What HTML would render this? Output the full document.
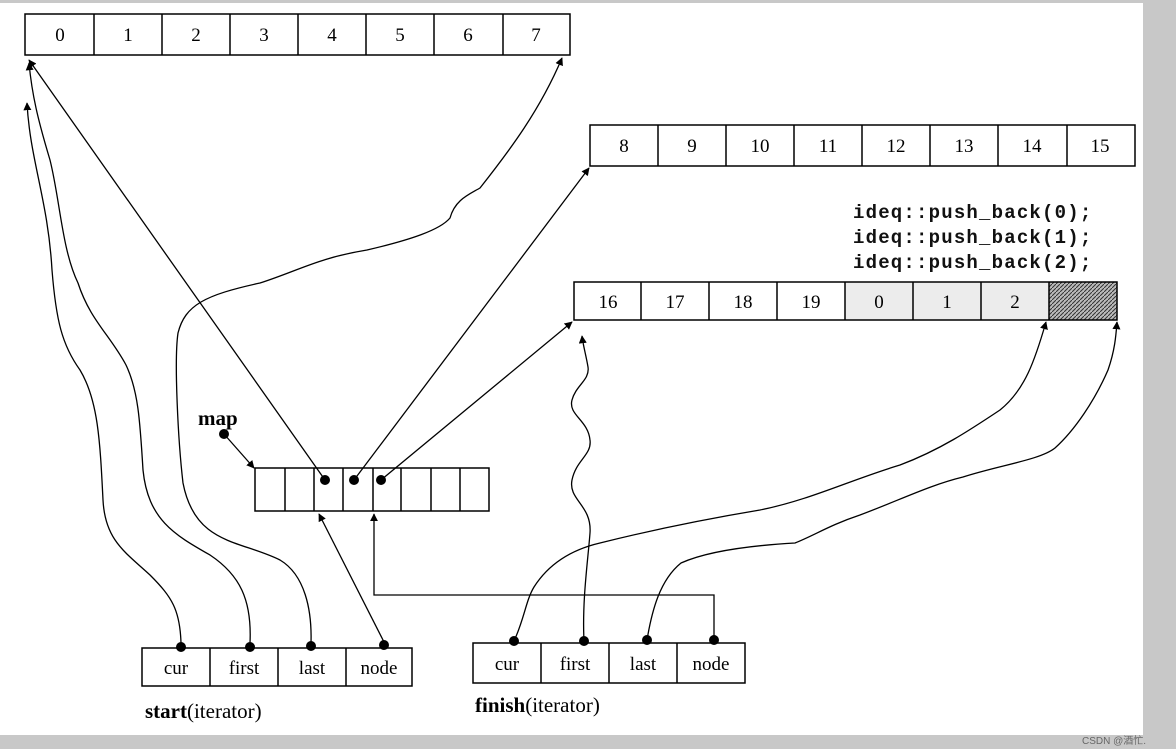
<!DOCTYPE html>
<html><head><meta charset="utf-8"><style>
html,body{margin:0;padding:0;background:#fff;}
svg{display:block;}
.n{font-family:"Liberation Serif",serif;font-size:19px;text-anchor:middle;fill:#000;}
.m{font-family:"Liberation Mono",monospace;font-size:19px;font-weight:bold;letter-spacing:1.2px;fill:#111;}
</style></head><body>
<svg width="1176" height="749" viewBox="0 0 1176 749" xmlns="http://www.w3.org/2000/svg">
<defs>
<marker id="a" viewBox="0 0 10 10" refX="9" refY="5" markerWidth="8" markerHeight="8" orient="auto-start-reverse" markerUnits="userSpaceOnUse">
<path d="M0,0 L10,5 L0,10 z" fill="#000"/></marker>
<pattern id="h" width="4" height="4" patternUnits="userSpaceOnUse">
<rect width="4" height="4" fill="#bbb"/><path d="M0,4 L4,0" stroke="#333" stroke-width="1"/></pattern>
</defs>
<rect x="0" y="0" width="1176" height="3" fill="#c8c8c8"/>
<rect x="1143" y="0" width="33" height="749" fill="#c8c8c8"/>
<rect x="0" y="735" width="1176" height="14" fill="#c8c8c8"/>

<g fill="none" stroke="#000" stroke-width="1.5">
<!-- array 0-7 -->
<rect x="25" y="14" width="545" height="41"/>
<path d="M94,14V55M162,14V55M230,14V55M298,14V55M366,14V55M434,14V55M503,14V55"/>
<!-- array 8-15 -->
<rect x="590" y="125" width="545" height="41"/>
<path d="M658,125V166M726,125V166M794,125V166M862,125V166M930,125V166M998,125V166M1067,125V166"/>
</g>
<!-- array 16.. -->
<rect x="845" y="282" width="204" height="38" fill="#ececec"/>
<rect x="1049" y="282" width="68" height="38" fill="url(#h)"/>
<g fill="none" stroke="#000" stroke-width="1.5">
<rect x="574" y="282" width="543" height="38"/>
<path d="M641,282V320M709,282V320M777,282V320M845,282V320M913,282V320M981,282V320M1049,282V320"/>
<!-- map -->
<rect x="255" y="468" width="234" height="43"/>
<path d="M285,468V511M314,468V511M343,468V511M373,468V511M401,468V511M431,468V511M460,468V511"/>
<!-- start -->
<rect x="142" y="648" width="270" height="38"/>
<path d="M210,648V686M278,648V686M346,648V686"/>
<!-- finish -->
<rect x="473" y="643" width="272" height="40"/>
<path d="M541,643V683M609,643V683M677,643V683"/>
</g>

<g class="n">
<text x="60" y="41">0</text><text x="128" y="41">1</text><text x="196" y="41">2</text><text x="264" y="41">3</text><text x="332" y="41">4</text><text x="400" y="41">5</text><text x="468" y="41">6</text><text x="536" y="41">7</text>
<text x="624" y="152">8</text><text x="692" y="152">9</text><text x="760" y="152">10</text><text x="828" y="152">11</text><text x="896" y="152">12</text><text x="964" y="152">13</text><text x="1032" y="152">14</text><text x="1100" y="152">15</text>
<text x="608" y="308">16</text><text x="675" y="308">17</text><text x="743" y="308">18</text><text x="811" y="308">19</text><text x="879" y="308">0</text><text x="947" y="308">1</text><text x="1015" y="308">2</text>
<text x="176" y="674">cur</text><text x="244" y="674">first</text><text x="312" y="674">last</text><text x="379" y="674">node</text>
<text x="507" y="670">cur</text><text x="575" y="670">first</text><text x="643" y="670">last</text><text x="711" y="670">node</text>
</g>
<text class="m" x="853" y="218">ideq::push_back(0);</text>
<text class="m" x="853" y="243">ideq::push_back(1);</text>
<text class="m" x="853" y="268">ideq::push_back(2);</text>
<text x="198" y="425" style="font-family:'Liberation Serif',serif;font-size:21px;font-weight:bold;">map</text>
<text x="145" y="718" style="font-family:'Liberation Serif',serif;font-size:21px;"><tspan font-weight="bold">start</tspan>(iterator)</text>
<text x="475" y="712" style="font-family:'Liberation Serif',serif;font-size:21px;"><tspan font-weight="bold">finish</tspan>(iterator)</text>
<text x="1082" y="744" style="font-family:'Liberation Sans','Noto Sans CJK SC',sans-serif;font-size:10px;fill:#666;">CSDN @酒忙.</text>

<g fill="#000">
<circle cx="181" cy="647" r="5"/><circle cx="250" cy="647" r="5"/><circle cx="311" cy="646" r="5"/><circle cx="384" cy="645" r="5"/>
<circle cx="514" cy="641" r="5"/><circle cx="584" cy="641" r="5"/><circle cx="647" cy="640" r="5"/><circle cx="714" cy="640" r="5"/>
<circle cx="325" cy="480" r="5"/><circle cx="354" cy="480" r="5"/><circle cx="381" cy="480" r="5"/>
<circle cx="224" cy="434" r="5"/>
</g>

<g fill="none" stroke="#000" stroke-width="1.3">
<path d="M181,643 C180,610 172,597 150,575 C125,552 105,540 103,500 C100,440 98,400 80,370 C62,345 56,320 52,270 C48,200 30,160 27,103" marker-end="url(#a)"/>
<path d="M250,643 C252,600 240,575 210,555 C175,535 148,520 143,470 C140,420 138,390 126,365 C110,335 90,320 78,283 C62,250 60,200 50,160 C38,120 32,95 29,63" marker-end="url(#a)"/>
<path d="M311,643 C312,610 305,575 280,560 C240,540 195,545 183,483 C178,440 174,360 178,333 C185,305 205,295 260,283 C300,270 318,258 367,250 C410,240 440,230 450,218 C455,200 468,195 480,188 C510,150 540,110 562,58" marker-end="url(#a)"/>
<path d="M384,642 L319,514" marker-end="url(#a)"/>
<path d="M325,480 L29,60" marker-end="url(#a)"/>
<path d="M354,480 L589,168" marker-end="url(#a)"/>
<path d="M381,480 L572,322" marker-end="url(#a)"/>
<path d="M224,434 L254,468" marker-end="url(#a)"/>
<path d="M714,640 V595 H374 V514" marker-end="url(#a)"/>
<path d="M584,641 C582,600 588,560 590,533 C592,505 568,500 572,480 C576,460 592,455 590,440 C588,420 568,415 572,400 C576,385 590,380 588,367 C586,355 583,345 582,336" marker-end="url(#a)"/>
<path d="M514,641 C524,620 526,600 534,587 C548,565 570,550 600,543 C640,533 700,520 760,510 C810,500 850,480 900,465 C940,450 970,430 1000,410 C1025,390 1035,360 1046,322" marker-end="url(#a)"/>
<path d="M647,640 C652,610 660,580 681,563 C710,550 760,545 795,543 C815,535 830,525 860,515 C900,500 930,485 963,477 C1000,465 1040,460 1055,448 C1075,430 1095,400 1108,370 C1115,350 1116,335 1117,322" marker-end="url(#a)"/>
</g>
</svg>
</body></html>
